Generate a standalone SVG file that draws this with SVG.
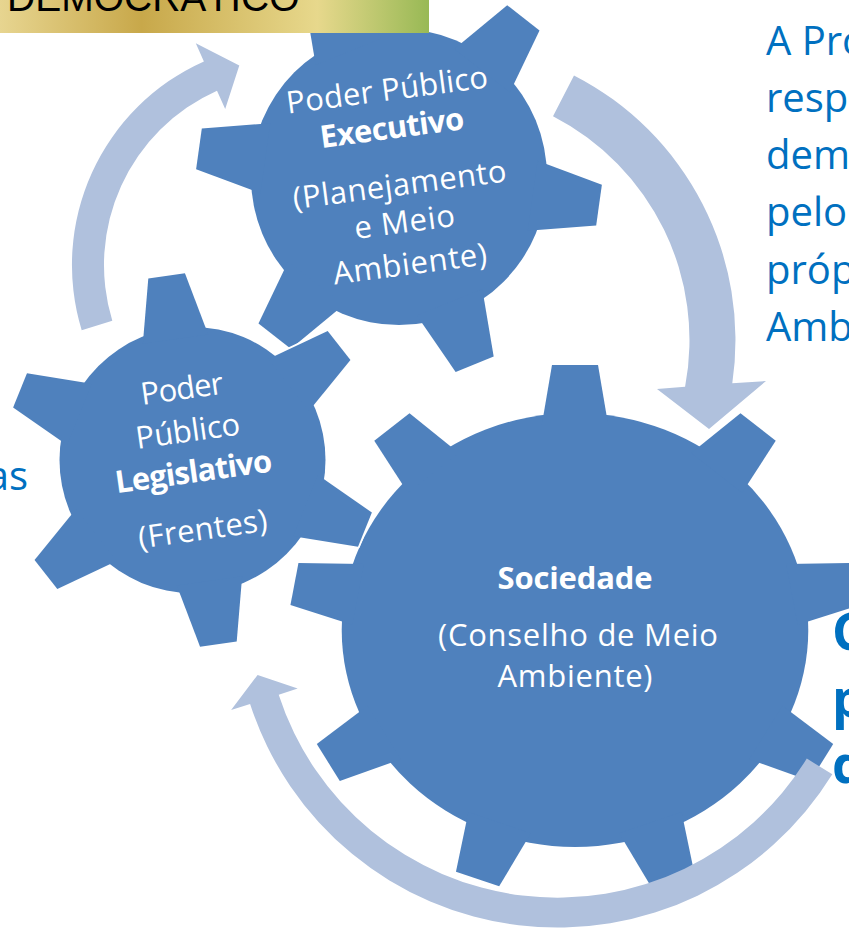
<svg xmlns="http://www.w3.org/2000/svg" xmlns:xlink="http://www.w3.org/1999/xlink" width="849" height="928" viewBox="0 0 849 928">
<style>
.gear{fill:#4F81BD}
.halo{fill:#FFFFFF;stroke:#FFFFFF;stroke-width:3.5;stroke-linejoin:round}
.arrow{fill:#B0C1DD}
.gt{font-family:'Open Sans','Noto Sans',sans-serif;font-size:31px;fill:#FFFFFF;text-anchor:middle}
.b{font-weight:bold}
.side{font-family:'Open Sans','Noto Sans',sans-serif;font-size:40px;fill:#0070C0}
.bigl{font-family:'Open Sans','Noto Sans',sans-serif;font-size:52px;font-weight:bold;fill:#0070C0}
.hdr{font-family:'Liberation Sans',Arial,sans-serif;font-size:39px;fill:#000000}
</style>
<defs>
<linearGradient id="hdrGrad" x1="0" y1="0" x2="1" y2="0">
<stop offset="0" stop-color="#E7D590"/>
<stop offset="0.33" stop-color="#C8A84A"/>
<stop offset="0.74" stop-color="#E7D88C"/>
<stop offset="1" stop-color="#98B955"/>
</linearGradient>
<polygon id="bt" points="-30.9,-205 30.9,-205 21.4,-265 -21.4,-265"/>
<polygon id="mt" points="-35.3,-135 35.3,-135 20.5,-202 -20.5,-202"/>
<polygon id="st" points="-33,-122 33,-122 18.5,-186 -18.5,-186"/>
<g id="bigShape">
<circle r="217"/>
<use href="#bt"/>
<use href="#bt" transform="rotate(40)"/>
<use href="#bt" transform="rotate(80)"/>
<use href="#bt" transform="rotate(120)"/>
<use href="#bt" transform="rotate(160)"/>
<use href="#bt" transform="rotate(200)"/>
<use href="#bt" transform="rotate(240)"/>
<use href="#bt" transform="rotate(280)"/>
<use href="#bt" transform="rotate(320)"/>
</g>
<g id="medShape">
<circle r="148"/>
<use href="#mt" transform="rotate(38)"/>
<use href="#mt" transform="rotate(98)"/>
<use href="#mt" transform="rotate(158)"/>
<use href="#mt" transform="rotate(218)"/>
<use href="#mt" transform="rotate(278)"/>
<use href="#mt" transform="rotate(338)"/>
</g>
<g id="smallShape">
<circle r="133"/>
<use href="#st" transform="rotate(-8)"/>
<use href="#st" transform="rotate(52)"/>
<use href="#st" transform="rotate(112)"/>
<use href="#st" transform="rotate(172)"/>
<use href="#st" transform="rotate(232)"/>
<use href="#st" transform="rotate(292)"/>
</g>
</defs>

<g id="node-sociedade">
<use href="#bigShape" class="halo" transform="translate(575,630) scale(1.075,1)"/>
<use href="#bigShape" class="gear" transform="translate(575,630) scale(1.075,1)"/>
<text class="gt b" x="575" y="589" textLength="155">Sociedade</text>
<text class="gt" x="578" y="646" textLength="280">(Conselho de Meio</text>
<text class="gt" x="575" y="687" textLength="155">Ambiente)</text>
</g>

<g id="node-executivo">
<use href="#medShape" class="halo" transform="translate(399,177)"/>
<use href="#medShape" class="gear" transform="translate(399,177)"/>
<g transform="rotate(-7.5)">
<text class="gt" x="372" y="150.4" textLength="203">Poder Público</text>
<text class="gt b" x="372" y="188.6" textLength="145">Executivo</text>
<text class="gt" x="372" y="245.9" textLength="215">(Planejamento</text>
<text class="gt" x="372" y="283.5" textLength="101">e Meio</text>
<text class="gt" x="372" y="325.7" textLength="155">Ambiente)</text>
</g>
</g>

<g id="node-legislativo">
<use href="#smallShape" class="halo" transform="translate(192.5,460)"/>
<use href="#smallShape" class="gear" transform="translate(192.5,460)"/>
<g transform="rotate(-8)">
<text class="gt" x="126" y="420.8" textLength="83">Poder</text>
<text class="gt" x="126" y="463.7" textLength="105">Público</text>
<text class="gt b" x="126" y="504.8" textLength="158">Legislativo</text>
<text class="gt" x="127" y="562.8" textLength="130">(Frentes)</text>
</g>
</g>

<g id="header">
<rect x="0" y="0" width="429" height="33" fill="url(#hdrGrad)"/>
<text class="hdr" x="7" y="11">DEMOCRÁTICO</text>
</g>

<g id="connectors">
<path class="arrow" d="M 81.7,330.2 A 223 223 0 0 1 203.9,61.4 L 195.8,43.2 L 239.3,65.6 L 225.2,108.9 L 217,90.7 A 191 191 0 0 0 112.3,320.8 Z"/>
<path class="arrow" d="M 574,75.4 A 297.5 297.5 0 0 1 732.3,383.3 L 766,381 L 709,429 L 657,389 L 685.1,386.7 A 251.5 251.5 0 0 0 553,116.3 Z"/>
<path class="arrow" d="M 832.3,774.3 A 323 323 0 0 1 250.1,703.9 L 231.1,710 L 257.6,674.9 L 297.7,688.5 L 278.7,694.7 A 293 293 0 0 0 806.8,758.6 Z"/>
</g>

<g id="side-text">
<text class="side" x="766" y="55">A Pro</text>
<text class="side" x="766" y="112">resp</text>
<text class="side" x="766" y="169">dem</text>
<text class="side" x="766" y="226">pelo</text>
<text class="side" x="766" y="284">próp</text>
<text class="side" x="766" y="341">Amb</text>
<text class="side" x="28" y="490" font-size="34" text-anchor="end">as</text>
<text class="bigl" x="832" y="650">C</text>
<text class="bigl" x="832" y="717">p</text>
<text class="bigl" x="832" y="783">d</text>
</g>
</svg>
